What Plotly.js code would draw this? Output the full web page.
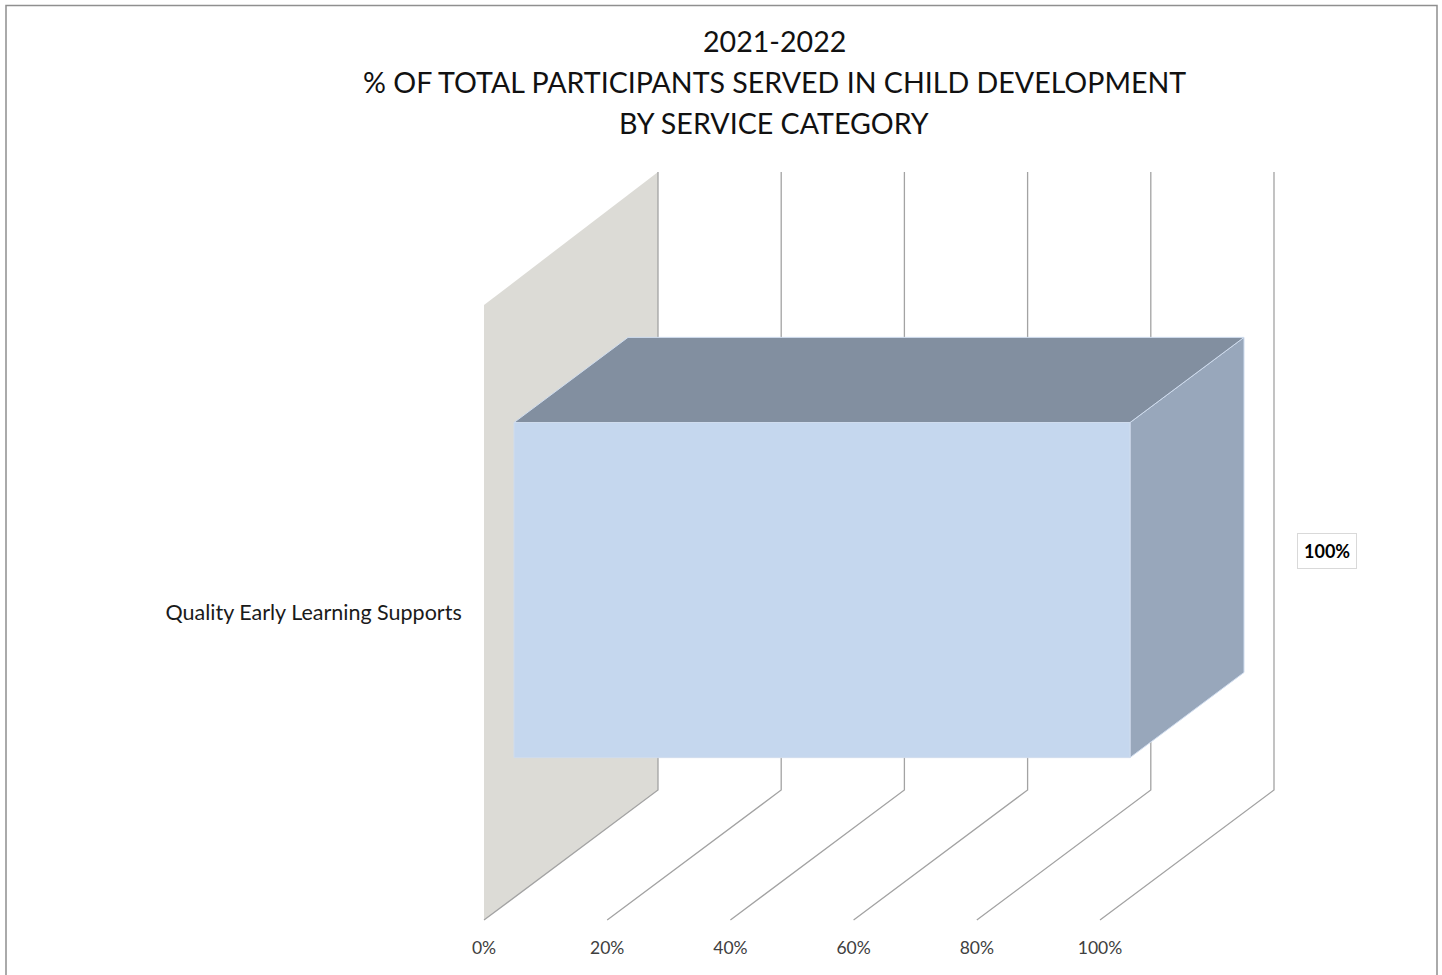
<!DOCTYPE html>
<html>
<head>
<meta charset="utf-8">
<script src="https://cdn.plot.ly/plotly-3.0.1.min.js"></script>
<style>html,body{margin:0;padding:0;background:#fff;}#chart{width:1442px;height:975px;}</style>
</head>
<body>
<div id="chart"></div>
<script>
// ---- data ----
const titleLines = ["2021-2022", "% OF TOTAL PARTICIPANTS SERVED IN CHILD DEVELOPMENT", "BY SERVICE CATEGORY"];
const categories = ["Quality Early Learning Supports"];
const values = [100];
const valueLabels = ["100%"];
const tickValues = [0, 20, 40, 60, 80, 100];
const tickLabels = ["0%", "20%", "40%", "60%", "80%", "100%"];

// ---- layout geometry (oblique 3D projection) ----
const W = 1442, H = 975;
const frontX0 = 484, pxPerUnit = 6.16;        // front plane: 0% at 484px
const frontYBottom = 920, frontYTop = 305;    // front plane vertical extent
const pxPerCat = frontYBottom - frontYTop;
const DX = 174 / pxPerUnit;                   // depth offset in x units
const DY = 130 / pxPerCat;                    // depth offset in category units
const backExtra = 3 / pxPerCat;               // back wall slightly taller
const d0 = 0.1724, d1 = 0.8276;               // bar depth span
const halfBar = 0.2724;                       // half bar height (category units)

const xRange = [-frontX0 / pxPerUnit, (W - frontX0) / pxPerUnit];
const yRange = [-0.5 - (H - frontYBottom) / pxPerCat, 0.5 + frontYTop / pxPerCat];

const traces = [];
const xmin = tickValues[0];

// back/side wall
traces.push({
  type: 'scatter', mode: 'lines', fill: 'toself', fillcolor: '#dcdbd6',
  line: {width: 0, color: '#dcdbd6'},
  x: [xmin, xmin, xmin + DX, xmin + DX, xmin],
  y: [-0.5, 0.5, 0.5 + DY + backExtra, -0.5 + DY, -0.5],
  hoverinfo: 'skip'
});

// gridlines: floor diagonals + back verticals
const gx = [], gy = [];
tickValues.forEach(t => {
  gx.push(t, t + DX, t + DX, null);
  gy.push(-0.5, -0.5 + DY, 0.5 + DY + backExtra, null);
});
traces.push({
  type: 'scatter', mode: 'lines', x: gx, y: gy,
  line: {color: '#a3a3a3', width: 1.3}, hoverinfo: 'skip'
});

// bars
const edge = {color: '#cfdcee', width: 1};
categories.forEach((c, i) => {
  const v = values[i];
  const lo = i - halfBar, hi = i + halfBar;
  // side face
  traces.push({
    type: 'scatter', mode: 'lines', fill: 'toself', fillcolor: '#98a7bb', line: edge,
    x: [v + d0 * DX, v + d1 * DX, v + d1 * DX, v + d0 * DX, v + d0 * DX],
    y: [lo + d0 * DY, lo + d1 * DY, hi + d1 * DY, hi + d0 * DY, lo + d0 * DY],
    hoverinfo: 'skip'
  });
  // top face
  traces.push({
    type: 'scatter', mode: 'lines', fill: 'toself', fillcolor: '#828fa0', line: edge,
    x: [xmin + d0 * DX, v + d0 * DX, v + d1 * DX, xmin + d1 * DX, xmin + d0 * DX],
    y: [hi + d0 * DY, hi + d0 * DY, hi + d1 * DY, hi + d1 * DY, hi + d0 * DY],
    hoverinfo: 'skip'
  });
  // front face
  traces.push({
    type: 'scatter', mode: 'lines', fill: 'toself', fillcolor: '#c5d7ee', line: edge,
    x: [xmin + d0 * DX, v + d0 * DX, v + d0 * DX, xmin + d0 * DX, xmin + d0 * DX],
    y: [lo + d0 * DY, lo + d0 * DY, hi + d0 * DY, hi + d0 * DY, lo + d0 * DY],
    hoverinfo: 'skip'
  });
});

const font = "Lato, 'Open Sans', sans-serif";
const annotations = [];
const titleY = [41, 82, 123];
titleLines.forEach((t, k) => {
  annotations.push({
    text: t, xref: 'paper', yref: 'paper', x: 774 / W, y: 1 - titleY[k] / H,
    xanchor: 'center', yanchor: 'middle', showarrow: false,
    font: {family: font, size: 28.6, color: '#111111'}
  });
});
categories.forEach((c, i) => {
  annotations.push({
    text: '<b>' + valueLabels[i] + '</b>', x: values[i] + 0.5 * DX, y: i + 0.5 * DY,
    xref: 'x', yref: 'y', xanchor: 'center', yanchor: 'middle', showarrow: false,
    xshift: 140, yshift: -3,
    bgcolor: '#ffffff', bordercolor: '#d9d9d9', borderwidth: 1, borderpad: 6,
    font: {family: font, size: 18, color: '#000000'}
  });
});

const layout = {
  width: W, height: H,
  margin: {l: 0, r: 0, t: 0, b: 0},
  paper_bgcolor: '#ffffff', plot_bgcolor: 'rgba(0,0,0,0)',
  showlegend: false, hovermode: false,
  xaxis: {
    range: xRange, anchor: 'free', position: (H - 935) / H,
    tickvals: tickValues, ticktext: tickLabels, ticks: '',
    showgrid: false, zeroline: false, showline: false,
    tickfont: {family: font, size: 17.5, color: '#404040'}
  },
  yaxis: {
    range: yRange, anchor: 'free', position: frontX0 / W,
    tickvals: categories.map((c, i) => i), ticktext: categories,
    ticks: 'outside', ticklen: 18, tickcolor: 'rgba(0,0,0,0)',
    showgrid: false, zeroline: false, showline: false,
    tickfont: {family: font, size: 21.5, color: '#1a1a1a'}
  },
  shapes: [{
    type: 'rect', xref: 'paper', yref: 'paper',
    x0: 6 / W, x1: 1437 / W, y0: -0.05, y1: 1 - 5.5 / H,
    line: {color: '#8f8f8f', width: 1.5}, fillcolor: 'rgba(0,0,0,0)'
  }],
  annotations: annotations
};

Plotly.newPlot('chart', traces, layout, {staticPlot: true, displayModeBar: false});
</script>
</body>
</html>
